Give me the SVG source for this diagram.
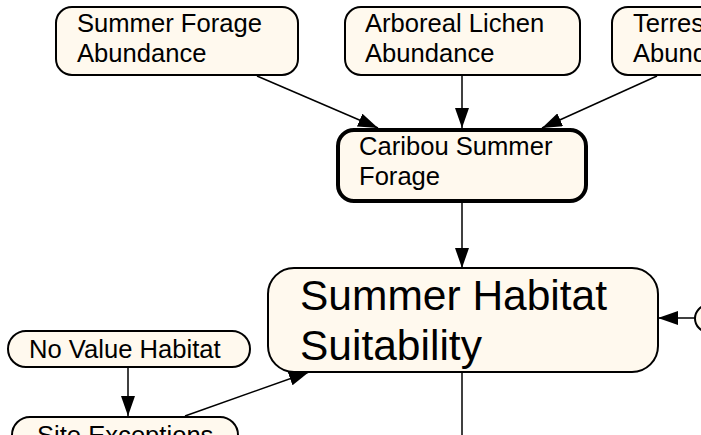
<svg xmlns="http://www.w3.org/2000/svg" width="701" height="435" viewBox="0 0 701 435">
  <defs>
    <marker id="arrow" viewBox="0 0 20 14" refX="20" refY="7" markerWidth="20" markerHeight="14" markerUnits="userSpaceOnUse" orient="auto">
      <path d="M0,0 L20,7 L0,14 Z" fill="#000"/>
    </marker>
    <style>
      .node { fill: #FFF9EE; stroke: #000; stroke-width: 2; }
      .key { stroke-width: 4; }
      .lbl { font-family: "Liberation Sans", Arial, sans-serif; font-size: 25.6px; fill: #000; }
      .big { font-size: 42.5px; }
      .edge { stroke: #000; stroke-width: 1.5; fill: none; }
      .arrow { marker-end: url(#arrow); }
    </style>
  </defs>
  <rect width="701" height="435" fill="#fff"/>

  <!-- connectors -->
  <g id="connectors">
    <line class="edge arrow" x1="257" y1="76" x2="378" y2="128"/>
    <line class="edge arrow" x1="462" y1="76" x2="462" y2="128"/>
    <line class="edge arrow" x1="657" y1="76" x2="542" y2="128"/>
    <line class="edge arrow" x1="462" y1="202" x2="462" y2="268"/>
    <line class="edge arrow" x1="695" y1="318" x2="658" y2="318"/>
    <line class="edge arrow" x1="128" y1="367" x2="128" y2="416"/>
    <line class="edge arrow" x1="185" y1="416" x2="309" y2="372"/>
    <line class="edge" x1="462" y1="372" x2="462" y2="435"/>
  </g>

  <g id="summer-forage-abundance">
    <rect class="node" x="56" y="7" width="242" height="68" rx="16"/>
    <text class="lbl" x="77" y="32">Summer Forage</text>
    <text class="lbl" x="77" y="62">Abundance</text>
  </g>

  <g id="arboreal-lichen-abundance">
    <rect class="node" x="345" y="7" width="235" height="68" rx="16"/>
    <text class="lbl" x="365" y="32">Arboreal Lichen</text>
    <text class="lbl" x="365" y="62">Abundance</text>
  </g>

  <g id="terrestrial-lichen-abundance">
    <rect class="node" x="612" y="7" width="235" height="68" rx="16"/>
    <text class="lbl" x="633" y="32">Terrestrial Lichen</text>
    <text class="lbl" x="633" y="62">Abundance</text>
  </g>

  <g id="caribou-summer-forage">
    <rect class="node key" x="338" y="130" width="248" height="71" rx="16"/>
    <text class="lbl" x="359" y="155">Caribou Summer</text>
    <text class="lbl" x="359" y="185">Forage</text>
  </g>

  <g id="summer-habitat-suitability">
    <rect class="node" x="268" y="268" width="390" height="104" rx="26"/>
    <text class="lbl big" x="300" y="310">Summer Habitat</text>
    <text class="lbl big" x="300" y="360">Suitability</text>
  </g>

  <g id="right-input">
    <rect class="node" x="695" y="305" width="160" height="27" rx="13.5"/>
  </g>

  <g id="no-value-habitat">
    <rect class="node" x="8" y="331" width="242" height="36" rx="18"/>
    <text class="lbl" x="29" y="358">No Value Habitat</text>
  </g>

  <g id="site-exceptions">
    <rect class="node" x="12" y="417" width="226" height="36" rx="18"/>
    <text class="lbl" x="37" y="444">Site Exceptions</text>
  </g>
</svg>
